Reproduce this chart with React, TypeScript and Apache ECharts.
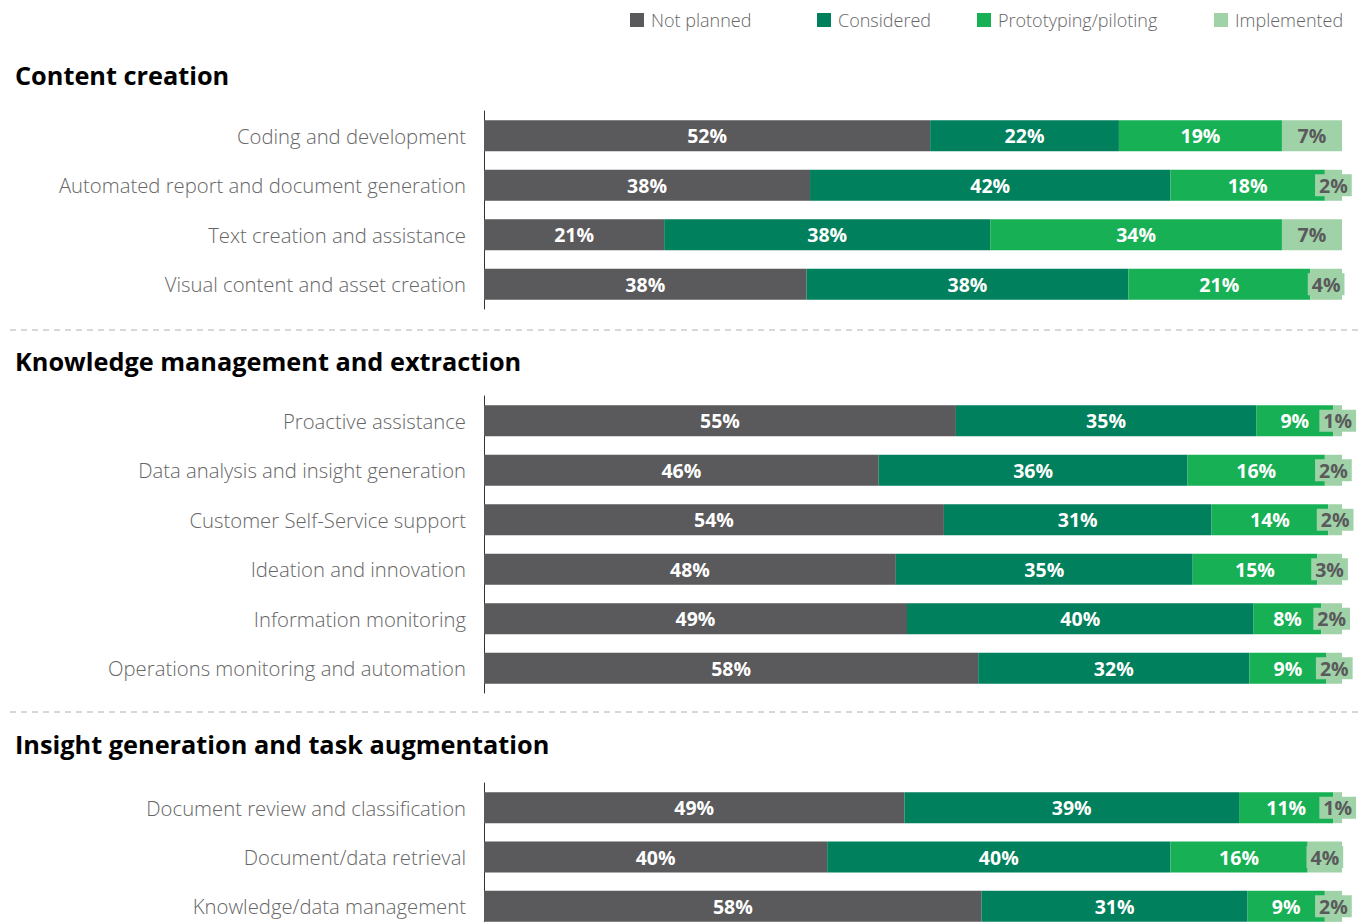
import React, { useEffect, useRef } from "react";
import * as echarts from "echarts";

const statuses = ["Not planned", "Considered", "Prototyping/piloting", "Implemented"];
const statusColors = ["#5a595b", "#00805c", "#17b055", "#a0d2a8"];
const groupTitles = [
  "Content creation",
  "Knowledge management and extraction",
  "Insight generation and task augmentation",
];

// Group 1: Content creation
const contentCats = [
  "Coding and development",
  "Automated report and document generation",
  "Text creation and assistance",
  "Visual content and asset creation",
];
const contentNotPlanned = [52, 38, 21, 37.6];
const contentConsidered = [22, 42, 38, 37.5];
const contentPrototyping = [19, 18, 34, 21.2];
const contentImplemented = [7, 2, 7, 3.7];

// Group 2: Knowledge management and extraction
const knowledgeCats = [
  "Proactive assistance",
  "Data analysis and insight generation",
  "Customer Self-Service support",
  "Ideation and innovation",
  "Information monitoring",
  "Operations monitoring and automation",
];
const knowledgeNotPlanned = [55, 46, 53.6, 48, 49.3, 57.6];
const knowledgeConsidered = [35, 36, 31.2, 34.6, 40.4, 31.6];
const knowledgePrototyping = [9, 16, 13.6, 14.5, 7.9, 9.0];
const knowledgeImplemented = [1, 2, 1.6, 2.9, 2.4, 1.8];

// Group 3: Insight generation and task augmentation
const insightCats = [
  "Document review and classification",
  "Document/data retrieval",
  "Knowledge/data management",
];
const insightNotPlanned = [49, 40, 58];
const insightConsidered = [39, 40, 31];
const insightPrototyping = [11, 16, 9];
const insightImplemented = [1, 4, 2];

const groups = [
  { cats: contentCats, values: [contentNotPlanned, contentConsidered, contentPrototyping, contentImplemented] },
  { cats: knowledgeCats, values: [knowledgeNotPlanned, knowledgeConsidered, knowledgePrototyping, knowledgeImplemented] },
  { cats: insightCats, values: [insightNotPlanned, insightConsidered, insightPrototyping, insightImplemented] },
];

const FONT = "'Open Sans', sans-serif";

export default function App() {
  const ref = useRef<HTMLDivElement>(null);
  useEffect(() => {
    document.body.style.margin = "0";
    if (!ref.current) return;
    const chart = echarts.init(ref.current, undefined, { renderer: "svg" });
    const gridDefs = [
      { left: 484, right: 23, top: 111, height: 198, outerBoundsMode: "none" },
      { left: 484, right: 23, top: 396, height: 297, outerBoundsMode: "none" },
      { left: 484, right: 23, top: 783, height: 148, outerBoundsMode: "none" },
    ];
    const legendLefts = [630, 817, 977, 1214];
    const titleTops = [62, 348, 731];
    const series: any[] = [];
    groups.forEach((g, gi) => {
      g.values.forEach((vals, si) => {
        series.push({
          type: "bar",
          name: statuses[si],
          stack: "g" + gi,
          xAxisIndex: gi,
          yAxisIndex: gi,
          barWidth: 31,
          data: vals,
          itemStyle: { color: statusColors[si] },
          label: {
            show: true,
            position: "inside",
            formatter: (p: any) => Math.round(p.value) + "%",
            color: si === 3 ? "#5a595b" : "#ffffff",
            fontWeight: "bold",
            fontSize: 19.5,
            fontFamily: FONT,
            ...(si === 3 ? { backgroundColor: statusColors[3], padding: [1, 4] } : {}),
          },
        });
      });
    });
    chart.setOption({
      animation: false,
      title: groupTitles.map((t, i) => ({
        text: t,
        left: 15,
        top: titleTops[i],
        padding: 0,
        textStyle: { fontSize: 25.3, fontWeight: "bold", color: "#000", fontFamily: FONT },
      })),
      legend: statuses.map((s, i) => ({
        data: [s],
        left: legendLefts[i],
        top: 11,
        itemWidth: 14,
        itemHeight: 14,
        icon: "rect",
        selectedMode: false,
        padding: 0,
        textStyle: { color: "#666", fontSize: 18, fontFamily: FONT, fontWeight: 300, padding: [0, 0, 0, 2] },
      })),
      grid: gridDefs,
      xAxis: gridDefs.map((_, i) => ({
        type: "value",
        gridIndex: i,
        min: 0,
        max: 100,
        show: false,
      })),
      yAxis: groups.map((g, i) => ({
        type: "category",
        gridIndex: i,
        data: g.cats,
        inverse: true,
        axisLine: { show: true, lineStyle: { color: "#333", width: 1 } },
        axisTick: { show: false },
        axisLabel: { color: "#666", fontSize: 20.3, fontFamily: FONT, fontWeight: 300, margin: 18 },
      })),
      graphic: [330, 712].map((y) => ({
        type: "line",
        shape: { x1: 10, y1: y, x2: 1360, y2: y },
        style: { stroke: "#b0b0b0", lineWidth: 1, lineDash: [6, 5] },
      })),
      series,
    });
    return () => chart.dispose();
  }, []);
  return <div ref={ref} style={{ width: 1365, height: 922 }} />;
}
